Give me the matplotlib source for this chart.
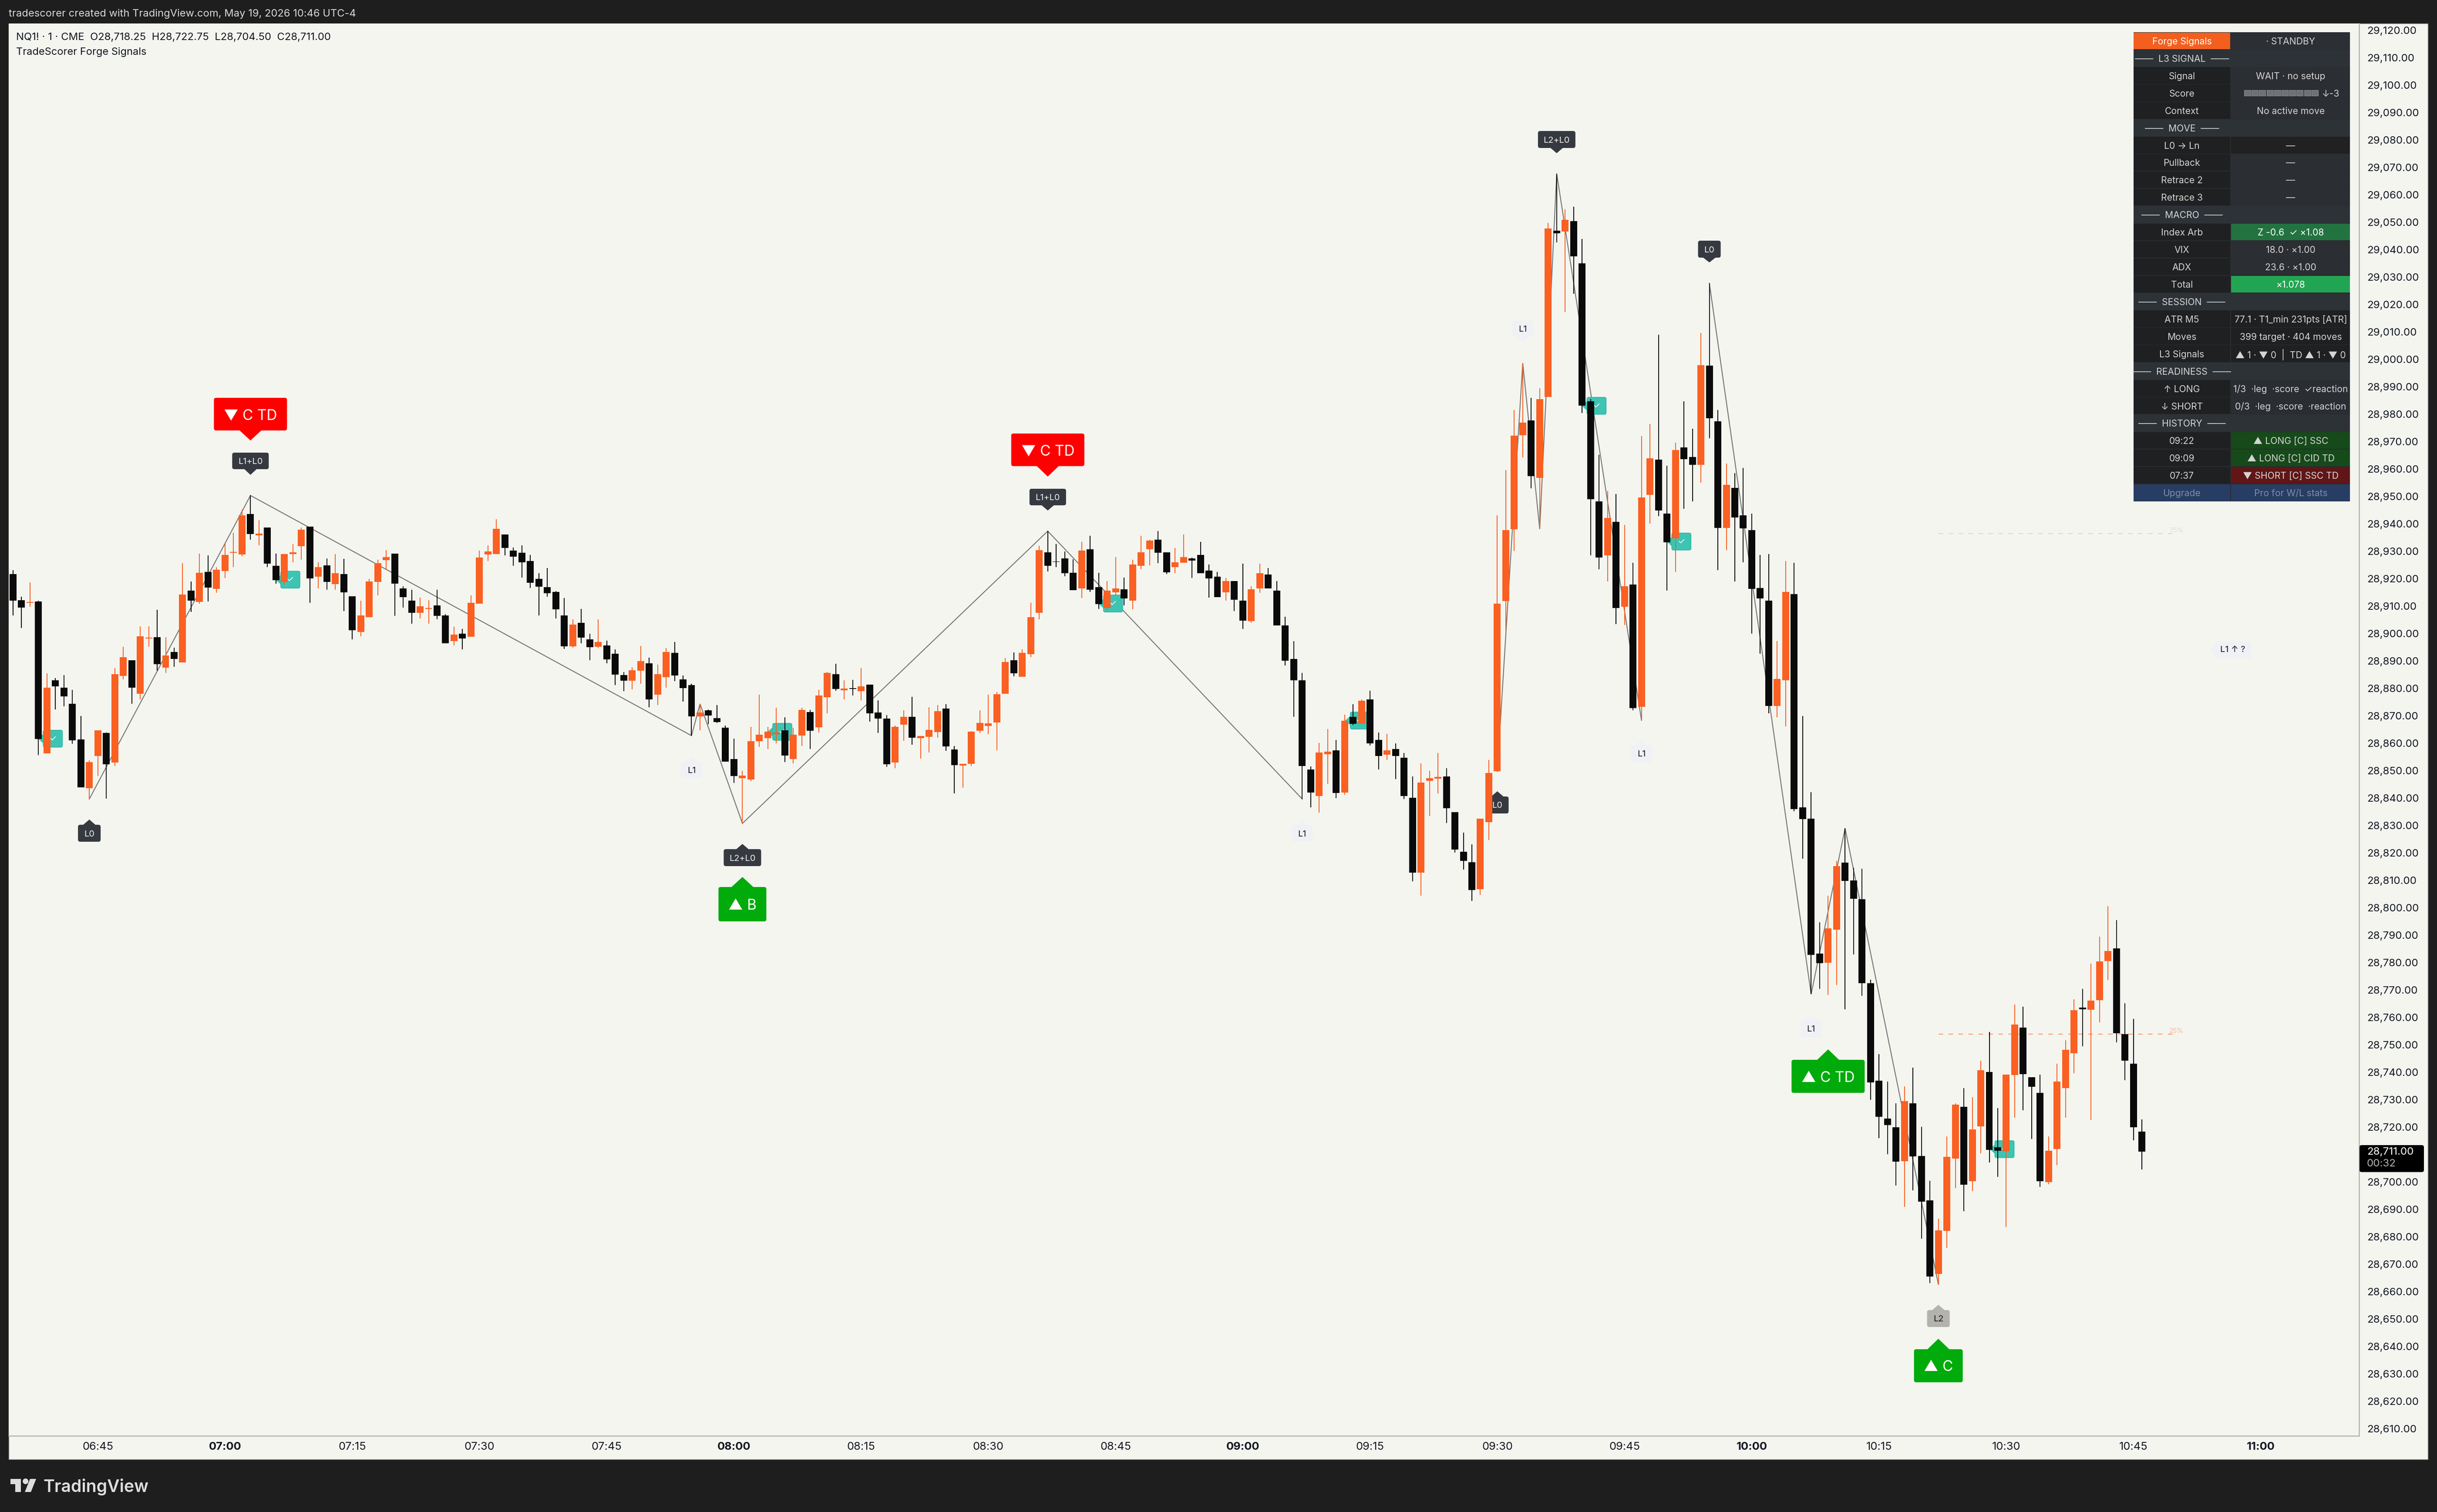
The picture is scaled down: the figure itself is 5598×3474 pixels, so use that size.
import matplotlib
matplotlib.use("Agg")
import matplotlib.pyplot as plt
from matplotlib.patches import FancyBboxPatch, Polygon, Rectangle, Circle
from matplotlib.transforms import Affine2D

plt.rcParams['font.family'] = ['Inter', 'DejaVu Sans']

# NQ1! one minute bars from 06:35 to 10:46
opens = [
    28921.6, 28912.1, 28911.1, 28911.6, 28856.2, 28882.9, 28880.2, 28874.3, 28861.3, 28843.5,
    28855.3, 28863.7, 28852.9, 28884.5, 28890.2, 28878.0, 28898.2, 28898.6, 28887.5, 28893.3,
    28889.4, 28915.6, 28911.4, 28922.4, 28916.2, 28922.8, 28929.4, 28928.7, 28943.6, 28935.7,
    28938.6, 28924.6, 28918.8, 28928.9, 28931.8, 28938.9, 28920.7, 28924.8, 28918.0, 28921.6,
    28913.6, 28900.5, 28905.9, 28918.7, 28926.7, 28929.1, 28916.4, 28911.9, 28907.5, 28908.9,
    28910.2, 28906.5, 28897.2, 28899.9, 28898.7, 28910.9, 28928.7, 28928.9, 28936.0, 28930.2,
    28929.4, 28926.4, 28919.9, 28916.8, 28915.1, 28906.5, 28895.3, 28903.8, 28897.8, 28895.2,
    28895.6, 28892.6, 28884.8, 28882.8, 28886.4, 28889.1, 28877.7, 28884.0, 28892.9, 28883.3,
    28881.1, 28869.7, 28871.9, 28869.1, 28865.6, 28854.2, 28847.2, 28846.7, 28860.7, 28861.8,
    28863.2, 28864.6, 28854.2, 28862.8, 28871.3, 28865.7, 28876.7, 28885.1, 28879.2, 28880.1,
    28878.9, 28881.3, 28871.1, 28868.9, 28852.9, 28866.7, 28869.6, 28861.8, 28862.3, 28864.0,
    28872.6, 28857.7, 28851.8, 28852.4, 28864.5, 28866.2, 28867.5, 28878.0, 28890.2, 28884.1,
    28892.4, 28907.5, 28929.6, 28926.3, 28927.3, 28922.1, 28916.4, 28930.7, 28916.9, 28909.2,
    28915.0, 28916.0, 28911.9, 28924.6, 28930.7, 28934.1, 28929.6, 28924.2, 28925.8, 28927.3,
    28928.6, 28922.9, 28920.7, 28915.0, 28919.1, 28911.9, 28904.5, 28916.4, 28921.4, 28915.6,
    28902.9, 28890.7, 28882.9, 28850.4, 28840.7, 28856.0, 28857.4, 28841.9, 28869.6, 28867.0,
    28876.0, 28861.2, 28855.8, 28857.9, 28854.7, 28840.1, 28812.8, 28846.3, 28847.0, 28847.9,
    28834.8, 28820.4, 28816.5, 28806.7, 28831.1, 28849.7, 28911.8, 28938.0, 28972.3, 28977.7,
    28956.7, 28986.3, 29046.8, 29046.5, 29050.4, 29034.9, 28984.6, 28948.2, 28928.5, 28940.7,
    28909.8, 28917.9, 28873.2, 28950.6, 28963.4, 28943.7, 28934.7, 28967.9, 28964.4, 28961.5,
    28997.7, 28977.4, 28938.4, 28953.0, 28943.1, 28937.7, 28916.5, 28911.9, 28873.5, 28882.9,
    28914.3, 28836.6, 28832.4, 28783.3, 28779.9, 28791.9, 28816.4, 28809.9, 28803.1, 28772.4,
    28736.8, 28723.1, 28719.9, 28707.5, 28728.6, 28709.4, 28693.3, 28666.4, 28682.1, 28708.5,
    28727.4, 28700.2, 28720.2, 28740.0, 28712.6, 28711.2, 28738.9, 28756.3, 28738.1, 28732.5,
    28699.9, 28711.9, 28734.1, 28746.9, 28763.6, 28762.8, 28766.2, 28780.6, 28785.1, 28753.8,
    28743.0, 28718.25,
]
highs = [
    28923.0, 28913.4, 28918.6, 28912.0, 28885.5, 28883.7, 28884.8, 28879.4, 28869.9, 28853.7,
    28864.6, 28863.8, 28887.3, 28895.1, 28890.2, 28902.6, 28902.6, 28908.6, 28898.6, 28894.8,
    28925.6, 28918.9, 28929.1, 28928.4, 28924.2, 28933.0, 28936.7, 28945.1, 28950.3, 28941.3,
    28938.6, 28929.1, 28928.9, 28932.6, 28938.6, 28938.9, 28925.9, 28927.3, 28928.9, 28927.2,
    28913.6, 28911.9, 28919.9, 28926.8, 28930.4, 28929.1, 28917.2, 28916.0, 28913.1, 28912.1,
    28916.0, 28907.1, 28902.4, 28901.6, 28913.8, 28930.2, 28932.1, 28941.6, 28936.0, 28931.3,
    28932.1, 28928.6, 28921.9, 28923.8, 28915.5, 28912.9, 28905.1, 28908.9, 28899.9, 28905.1,
    28897.3, 28894.1, 28885.9, 28887.7, 28895.5, 28891.1, 28888.6, 28894.6, 28896.9, 28884.6,
    28881.6, 28874.3, 28872.2, 28873.8, 28866.4, 28861.6, 28849.9, 28866.0, 28877.7, 28866.0,
    28872.9, 28869.4, 28865.6, 28872.9, 28872.1, 28879.4, 28885.9, 28888.9, 28882.9, 28883.1,
    28887.3, 28881.3, 28875.6, 28870.2, 28866.4, 28871.9, 28876.9, 28862.6, 28873.1, 28873.8,
    28874.2, 28858.9, 28852.4, 28864.3, 28871.9, 28877.7, 28878.6, 28891.0, 28893.1, 28894.1,
    28911.1, 28932.0, 28937.3, 28932.6, 28929.9, 28927.0, 28933.4, 28935.6, 28922.1, 28919.1,
    28927.8, 28920.4, 28926.9, 28935.6, 28934.2, 28937.3, 28929.6, 28931.1, 28936.1, 28927.7,
    28933.4, 28925.1, 28922.4, 28920.2, 28919.1, 28925.5, 28917.2, 28925.5, 28923.9, 28919.1,
    28906.1, 28897.2, 28885.6, 28851.4, 28860.1, 28865.1, 28861.2, 28870.4, 28874.2, 28876.0,
    28879.1, 28863.8, 28863.4, 28859.9, 28856.4, 28847.9, 28852.6, 28849.9, 28856.4, 28850.9,
    28834.8, 28827.4, 28823.1, 28832.4, 28853.8, 28943.1, 28959.5, 28981.4, 28998.6, 28985.9,
    28989.4, 29049.8, 29067.7, 29054.6, 29055.6, 29043.9, 28985.5, 28965.2, 28952.0, 28950.9,
    28939.6, 28925.7, 28972.0, 28976.4, 29009.0, 28961.2, 28969.6, 28984.6, 28974.7, 29009.6,
    29027.7, 28981.4, 28961.9, 28958.5, 28960.4, 28943.7, 28928.6, 28928.9, 28897.2, 28926.4,
    28925.7, 28869.9, 28842.1, 28794.6, 28804.3, 28817.1, 28828.9, 28814.5, 28814.1, 28773.7,
    28746.6, 28736.6, 28728.6, 28734.8, 28741.6, 28720.0, 28700.4, 28686.5, 28716.6, 28728.6,
    28734.2, 28730.8, 28744.2, 28754.7, 28726.9, 28739.1, 28764.7, 28763.8, 28738.2, 28739.1,
    28716.6, 28743.0, 28751.7, 28766.6, 28770.4, 28779.6, 28789.4, 28800.6, 28795.4, 28765.1,
    28759.4, 28722.75,
]
lows = [
    28906.6, 28902.0, 28909.7, 28855.6, 28856.2, 28872.2, 28873.4, 28859.7, 28843.8, 28839.6,
    28848.0, 28839.7, 28851.6, 28883.3, 28874.4, 28876.0, 28895.1, 28886.4, 28885.6, 28887.8,
    28889.4, 28907.8, 28910.8, 28911.6, 28914.8, 28920.2, 28924.1, 28928.2, 28934.1, 28932.1,
    28924.1, 28918.2, 28917.8, 28926.0, 28926.8, 28911.1, 28916.4, 28916.0, 28916.0, 28908.2,
    28897.8, 28898.9, 28905.9, 28913.8, 28923.4, 28906.4, 28909.4, 28903.6, 28905.5, 28903.6,
    28905.1, 28896.4, 28895.6, 28894.1, 28898.7, 28910.9, 28926.4, 28928.9, 28928.4, 28924.6,
    28920.3, 28916.5, 28906.5, 28913.4, 28905.5, 28894.3, 28894.8, 28896.4, 28890.2, 28894.6,
    28889.1, 28881.1, 28878.9, 28879.6, 28881.6, 28873.1, 28873.8, 28880.2, 28882.6, 28875.1,
    28862.7, 28864.6, 28866.9, 28867.4, 28853.3, 28845.5, 28830.7, 28846.1, 28858.6, 28857.8,
    28859.9, 28853.1, 28852.6, 28858.9, 28857.8, 28863.8, 28870.8, 28879.1, 28876.0, 28877.4,
    28875.6, 28867.8, 28863.7, 28851.3, 28850.8, 28860.8, 28859.4, 28854.3, 28856.5, 28861.9,
    28857.2, 28841.6, 28843.7, 28851.6, 28863.7, 28863.3, 28857.4, 28878.0, 28884.3, 28884.1,
    28891.3, 28905.2, 28922.6, 28924.2, 28920.9, 28915.8, 28912.9, 28915.1, 28908.9, 28908.4,
    28913.9, 28910.2, 28908.7, 28923.4, 28924.8, 28925.6, 28921.6, 28921.9, 28925.8, 28920.2,
    28921.9, 28913.1, 28913.3, 28911.9, 28908.2, 28901.6, 28903.8, 28914.8, 28916.4, 28902.9,
    28888.3, 28869.6, 28839.6, 28836.5, 28834.7, 28845.2, 28839.9, 28841.2, 28866.5, 28867.0,
    28859.1, 28850.4, 28853.9, 28846.9, 28839.6, 28809.6, 28804.3, 28833.4, 28841.6, 28830.9,
    28820.1, 28813.8, 28802.5, 28804.7, 28824.7, 28849.7, 28900.9, 28930.1, 28964.2, 28952.9,
    28938.0, 28986.3, 29042.6, 29017.2, 29023.9, 28980.4, 28928.5, 28923.4, 28919.0, 28903.4,
    28903.1, 28872.0, 28868.3, 28940.0, 28942.7, 28915.6, 28922.5, 28945.5, 28948.2, 28955.0,
    28971.2, 28923.0, 28930.3, 28919.0, 28925.9, 28899.9, 28892.6, 28870.8, 28869.4, 28866.1,
    28835.2, 28817.9, 28768.4, 28770.4, 28768.1, 28771.8, 28762.9, 28782.9, 28767.9, 28729.9,
    28716.0, 28710.0, 28698.6, 28690.8, 28696.9, 28679.2, 28663.0, 28662.6, 28675.9, 28697.6,
    28689.2, 28696.6, 28710.4, 28707.0, 28701.8, 28683.6, 28723.4, 28726.1, 28715.6, 28698.1,
    28699.1, 28706.1, 28723.4, 28739.5, 28749.4, 28722.6, 28758.1, 28773.6, 28750.9, 28737.0,
    28715.1, 28704.5,
]
closes = [
    28911.9, 28909.4, 28911.4, 28861.4, 28880.2, 28880.7, 28877.0, 28861.0, 28843.8, 28853.1,
    28864.6, 28852.3, 28885.1, 28891.3, 28880.2, 28898.9, 28898.5, 28888.7, 28891.9, 28890.7,
    28914.1, 28911.9, 28922.1, 28916.7, 28923.3, 28928.6, 28929.7, 28943.1, 28936.2, 28936.4,
    28925.5, 28919.4, 28928.9, 28929.6, 28937.8, 28920.1, 28924.1, 28918.7, 28921.9, 28915.0,
    28901.1, 28906.5, 28918.9, 28925.6, 28927.8, 28918.2, 28913.2, 28907.5, 28909.9, 28909.2,
    28906.4, 28896.4, 28899.6, 28898.2, 28911.1, 28927.7, 28929.9, 28938.2, 28931.1, 28928.0,
    28925.9, 28918.4, 28917.0, 28914.6, 28908.7, 28895.3, 28903.3, 28898.4, 28895.0, 28896.9,
    28890.6, 28885.0, 28882.8, 28886.5, 28889.9, 28875.9, 28885.1, 28893.3, 28884.6, 28880.1,
    28869.7, 28871.1, 28870.1, 28867.7, 28853.3, 28848.0, 28848.2, 28860.7, 28863.1, 28864.2,
    28863.8, 28855.5, 28863.1, 28872.1, 28864.5, 28877.4, 28885.6, 28879.7, 28879.9, 28879.8,
    28880.7, 28870.9, 28868.9, 28852.3, 28865.9, 28869.6, 28861.9, 28862.6, 28864.8, 28871.6,
    28858.7, 28852.0, 28852.4, 28864.2, 28867.4, 28867.2, 28877.8, 28889.5, 28885.5, 28892.9,
    28906.0, 28930.4, 28924.6, 28926.1, 28921.9, 28915.8, 28930.2, 28916.0, 28910.7, 28915.6,
    28916.4, 28912.8, 28925.1, 28929.6, 28933.8, 28929.4, 28922.3, 28926.0, 28927.8, 28926.5,
    28921.9, 28920.1, 28913.3, 28919.1, 28912.3, 28904.6, 28916.1, 28921.9, 28916.4, 28902.9,
    28890.1, 28882.9, 28851.6, 28841.9, 28856.6, 28856.9, 28841.8, 28868.2, 28867.0, 28875.5,
    28859.9, 28855.3, 28857.4, 28855.3, 28840.7, 28812.8, 28845.6, 28847.2, 28847.7, 28836.2,
    28821.1, 28817.0, 28806.4, 28832.4, 28849.1, 28910.9, 28937.7, 28972.1, 28976.8, 28957.3,
    28985.5, 29047.7, 29046.0, 29050.8, 29037.5, 28983.1, 28948.9, 28927.6, 28942.1, 28909.2,
    28917.2, 28872.8, 28949.6, 28963.8, 28944.8, 28933.2, 28966.8, 28963.5, 28961.5, 28997.8,
    28978.4, 28938.4, 28954.2, 28942.2, 28938.3, 28916.3, 28912.8, 28873.5, 28883.4, 28915.2,
    28835.9, 28832.2, 28782.7, 28779.7, 28792.4, 28815.1, 28809.8, 28803.2, 28772.4, 28736.2,
    28723.7, 28720.7, 28707.3, 28729.4, 28709.3, 28692.7, 28665.5, 28682.3, 28709.1, 28728.1,
    28698.9, 28719.1, 28740.7, 28711.7, 28711.3, 28739.1, 28757.3, 28739.3, 28734.7, 28700.2,
    28711.3, 28736.6, 28748.2, 28762.6, 28762.9, 28766.1, 28780.4, 28784.2, 28754.1, 28744.2,
    28719.9, 28711.0,
]

# zigzag pieces: bar number of each swing and which extreme it sits on
swing_bars = [[9, 28, 80, 81, 86, 122, 152], [175, 178, 180, 182, 192], [200, 212, 216, 227]]
swing_ends = [['L', 'H', 'L', 'H', 'L', 'H', 'L'], ['L', 'H', 'L', 'H', 'L'], ['H', 'L', 'H', 'L']]

# teal check flags: bar position and price
check_bars = [4.7, 32.7, 90.7, 129.7, 158.8, 186.7, 196.7, 234.8]
check_prices = [28861.6, 28919.6, 28864.1, 28910.9, 28868.2, 28983.0, 28933.5, 28711.9]

level_prices = [28936.4, 28753.9]
level_labels = ['75%', '25%']
last_price = 28711.00

time_ticks = list(range(10, 266, 15))
time_labels = ['06:45', '07:00', '07:15', '07:30', '07:45', '08:00', '08:15', '08:30', '08:45',
               '09:00', '09:15', '09:30', '09:45', '10:00', '10:15', '10:30', '10:45', '11:00']
price_ticks = list(range(28610, 29121, 10))

panel_left = ['Forge Signals', '——  L3 SIGNAL  ——', 'Signal', 'Score', 'Context', '——  MOVE  ——',
              'L0 → Ln', 'Pullback', 'Retrace 2', 'Retrace 3', '——  MACRO  ——', 'Index Arb', 'VIX', 'ADX',
              'Total', '——  SESSION  ——', 'ATR M5', 'Moves', 'L3 Signals', '——  READINESS  ——',
              '↑ LONG', '↓ SHORT', '——  HISTORY  ——', '09:22', '09:09', '07:37', 'Upgrade']
panel_right = ['· STANDBY', '', 'WAIT · no setup', '↓-3', 'No active move', '',
               '—', '—', '—', '—', '', 'Z -0.6  ✓ ×1.08', '18.0 · ×1.00', '23.6 · ×1.00',
               '×1.078', '', '77.1 · T1_min 231pts [ATR]', '399 target · 404 moves',
               '▲ 1 · ▼ 0  |  TD ▲ 1 · ▼ 0', '', '1/3  ·leg  ·score  ✓reaction',
               '0/3  ·leg  ·score  ·reaction', '', '▲ LONG [C] SSC', '▲ LONG [C] CID TD',
               '▼ SHORT [C] SSC TD', 'Pro for W/L stats']
panel_right_fill = ['#2c3035', '#2d3237', '#2b2e32', '#2b2e32', '#2b2e32', '#2d3237',
                    '#212122', '#2b2e32', '#2b2e32', '#2b2e32', '#2d3237', '#237340', '#2b2e32', '#2b2e32',
                    '#22a553', '#2d3237', '#1f2022', '#1f2022', '#1f2022', '#2d3237',
                    '#2a2d31', '#2a2d31', '#2d3237', '#174a1a', '#174a1a', '#601616', '#273d64']
score_boxes = 10

W, H = 5598, 3474
DPI = 200
DARK = '#1e1e1e'
PAPER = '#f4f5ef'
ORANGE = '#fa6022'
BLACK = '#0a0a0a'
AXIS = '#b2b4ac'

fig = plt.figure(figsize=(W / DPI, H / DPI), dpi=DPI, facecolor=DARK)
px = Affine2D().scale(1, -1).translate(0, H)

fig.patches.append(Rectangle((20, 54), 5557, 3299, transform=px, facecolor=PAPER,
                             edgecolor='#8a8a8a', linewidth=0.5, figure=fig, zorder=-1))

ax = fig.add_axes([20 / W, (H - 3299) / H, (5419 - 20) / W, (3299 - 54) / H], facecolor=PAPER)
ax.set_xlim(-0.503, 276.6)
ax.set_ylim(29120 - (3299 - 69.3) / 6.3, 29120 + (69.3 - 54) / 6.3)
for side in ['top', 'left']:
    ax.spines[side].set_visible(False)
for side in ['right', 'bottom']:
    ax.spines[side].set_color(AXIS)
    ax.spines[side].set_linewidth(0.9)

ax.yaxis.tick_right()
ax.set_yticks(price_ticks)
ax.set_yticklabels([f'{p:,.2f}' for p in price_ticks], fontsize=8.7, color='#131722')
ax.set_xticks(time_ticks)
ax.set_xticklabels(time_labels, fontsize=9.2, color='#131722')
ax.tick_params(axis='both', length=0)
ax.tick_params(axis='y', pad=6.5)
ax.tick_params(axis='x', pad=5.2)
for label in ax.get_xticklabels():
    if label.get_text().endswith(':00'):
        label.set_fontweight('bold')


def bar_px(i):
    return ax.transData.transform((i, 0))[0]


def price_px(p):
    return H - ax.transData.transform((0, p))[1]


def tag(bar, top, bottom, tip, width, text, face, ink, size):
    # rounded label with a small pointer towards its bar
    cx = bar_px(bar)
    ax.add_patch(FancyBboxPatch((cx - width / 2, top), width, bottom - top,
                                boxstyle='round,pad=0,rounding_size=5', transform=px,
                                facecolor=face, linewidth=0, zorder=2))
    base = top if tip < top else bottom
    half = 25 if size > 10 else 14
    ax.add_patch(Polygon([(cx - half, base), (cx + half, base), (cx, tip)], transform=px,
                         facecolor=face, linewidth=0, zorder=2))
    ax.text(cx, (top + bottom) / 2, text, transform=px, ha='center', va='center_baseline',
            fontsize=size, color=ink, zorder=2.1)


# zigzag
for bars, ends in zip(swing_bars, swing_ends):
    prices = [highs[b] if e == 'H' else lows[b] for b, e in zip(bars, ends)]
    ax.plot(bars, prices, color='#787878', lw=0.8, zorder=1, solid_joinstyle='miter')

# teal flags
for b, p in zip(check_bars, check_prices):
    cx, cy = bar_px(b), price_px(p)
    ax.add_patch(Polygon([(cx - 34, cy), (cx - 22, cy - 11), (cx - 22, cy + 11)], transform=px,
                         facecolor='#3ec4b3', linewidth=0, zorder=1.5))
    ax.add_patch(FancyBboxPatch((cx - 22, cy - 19.5), 44, 39, boxstyle='round,pad=0,rounding_size=4',
                                transform=px, facecolor='#3ec4b3', edgecolor='#30b8a6', linewidth=0.6,
                                zorder=1.5))
    ax.text(cx, cy, '✓', transform=px, ha='center', va='center', fontsize=7, color='white', zorder=1.6)

# dashed retrace levels
for p, txt, col, txt_col in zip(level_prices, level_labels, ['#d9d9d4', '#f79a72'], ['#dededa', '#fbb597']):
    y = price_px(p)
    ax.plot([bar_px(227), 4991], [y, y], transform=px, color=col, lw=0.75, dashes=(5, 6), zorder=1)
    ax.text(4983, y - 7, txt, transform=px, ha='left', va='center', fontsize=5.4, color=txt_col, zorder=1)

small = 7.2
DARK_TAG, LIGHT_TAG, GRAY_TAG = '#363a40', '#f0f1f5', '#b3b3ab'
tag(28, 1040, 1078, 1091, 84, 'L1+L0', DARK_TAG, '#eeeeee', small)
tag(9, 1895, 1934, 1883, 52, 'L0', DARK_TAG, '#eeeeee', small)
tag(80, 1750, 1789, 1739, 48, 'L1', LIGHT_TAG, '#131722', small)
tag(86, 1951, 1990, 1939, 86, 'L2+L0', DARK_TAG, '#eeeeee', small)
tag(122, 1123, 1161, 1173, 84, 'L1+L0', DARK_TAG, '#eeeeee', small)
tag(152, 1897, 1934, 1884, 48, 'L1', LIGHT_TAG, '#131722', small)
tag(175, 1830, 1869, 1818, 52, 'L0', DARK_TAG, '#eeeeee', small)
tag(178, 737, 774, 785, 48, 'L1', LIGHT_TAG, '#131722', small)
tag(182, 301, 340, 352, 86, 'L2+L0', DARK_TAG, '#eeeeee', small)
tag(200, 553, 592, 603, 52, 'L0', DARK_TAG, '#eeeeee', small)
tag(192, 1712, 1751, 1700, 48, 'L1', LIGHT_TAG, '#131722', small)
tag(212, 2344, 2383, 2332, 48, 'L1', LIGHT_TAG, '#131722', small)
tag(227, 3010, 3049, 2998, 52, 'L2', GRAY_TAG, '#131722', small)

RED, GREEN = '#ff0000', '#00ab0b'
tag(28, 914, 989, 1012, 168, '▼ C TD', RED, 'white', 12)
tag(122, 996, 1071, 1095, 168, '▼ C TD', RED, 'white', 12)
tag(86, 2038, 2117, 2015, 110, '▲ B', GREEN, 'white', 12)
tag(214, 2435, 2511, 2411, 168, '▲ C TD', GREEN, 'white', 12)
tag(227, 3100, 3176, 3076, 112, '▲ C', GREEN, 'white', 12)

# L1 note at the right, pointer on its left side
ax.add_patch(FancyBboxPatch((5087, 1474), 85, 39, boxstyle='round,pad=0,rounding_size=5', transform=px,
                            facecolor=LIGHT_TAG, linewidth=0, zorder=2))
ax.add_patch(Polygon([(5075, 1493), (5087, 1481), (5087, 1505)], transform=px, facecolor=LIGHT_TAG,
                     linewidth=0, zorder=2))
ax.text(5129, 1493, 'L1 ↑ ?', transform=px, ha='center', va='center', fontsize=small, color='#131722', zorder=2.1)

# candles
xs = list(range(len(opens)))
colors = [ORANGE if c >= o else BLACK for o, c in zip(opens, closes)]
ax.vlines(xs, lows, highs, colors=colors, lw=0.72, zorder=3)
ax.bar(xs, [abs(c - o) for o, c in zip(opens, closes)], bottom=[min(o, c) for o, c in zip(opens, closes)],
       width=0.82, color=colors, linewidth=0, zorder=3)

# overlay in picture pixels
over = fig.add_axes([0, 0, 1, 1])
over.set_xlim(0, W)
over.set_ylim(H, 0)
over.set_axis_off()

over.text(20, 32, 'tradescorer created with TradingView.com, May 19, 2026 10:46 UTC-4', fontsize=8.55,
          color='#d8d8d8', va='center', ha='left')
over.text(37, 86, 'NQ1! · 1 · CME  O28,718.25  H28,722.75  L28,704.50  C28,711.00', fontsize=8.6,
          color='#131722', va='center', ha='left')
over.text(37, 120, 'TradeScorer Forge Signals', fontsize=8.5, color='#131722', va='center', ha='left')

# price tag
over.add_patch(FancyBboxPatch((5420, 2631), 148, 62, boxstyle='round,pad=0,rounding_size=5',
                              facecolor='black', linewidth=0))
over.text(5437, 2647, f'{last_price:,.2f}', fontsize=8.7, color='white', va='center', ha='left')
over.text(5437, 2674, '00:32', fontsize=8.7, color='#b2b2b2', va='center', ha='left')

# logo
LOGO = '#dedede'
over.add_patch(Polygon([(24, 3398), (48, 3398), (48, 3428), (35, 3428), (35, 3410), (24, 3410)],
                       facecolor=LOGO, linewidth=0))
over.add_patch(Circle((58.7, 3403.5), 6.5, facecolor=LOGO, linewidth=0))
over.add_patch(Polygon([(69, 3398), (83, 3398), (71, 3428), (57, 3428)], facecolor=LOGO, linewidth=0))
over.text(99, 3428, 'TradingView', fontsize=14.1, fontweight='semibold', color=LOGO, va='baseline', ha='left')

# status table
row_h = 39.93
panel_size = 7.6
over.add_patch(Rectangle((4901, 74), 497, row_h * 27, facecolor='#292c30', linewidth=0))
for i, (left, right, fill) in enumerate(zip(panel_left, panel_right, panel_right_fill)):
    top = 74 + i * row_h
    cy = top + row_h / 2
    if right == '':
        over.add_patch(Rectangle((4901, top), 497, row_h, facecolor=fill, linewidth=0))
    else:
        left_fill = '#f25f1f' if i == 0 else '#273d64' if i == 26 else '#1f2022'
        over.add_patch(Rectangle((4901, top + 0.5), 222, row_h - 1.5, facecolor=left_fill, linewidth=0))
        over.add_patch(Rectangle((5125, top + 0.5), 273, row_h - 1.5, facecolor=fill, linewidth=0))
    ink = 'white' if i == 0 else '#7f8ca3' if i == 26 else '#d4d4d4'
    over.text(5012, cy, left, fontsize=panel_size, color=ink, ha='center', va='center_baseline')
    if left == 'Score':
        for k in range(score_boxes):
            over.add_patch(Rectangle((5155 + k * 17.2, cy - 6.5), 15, 13, facecolor='#6f7275',
                                     edgecolor='#8c8e90', linewidth=0.4))
        over.text(5334, cy, right, fontsize=panel_size, color=ink, ha='left', va='center_baseline')
    elif right:
        ink = '#7f8ca3' if i == 26 else 'white' if fill in ('#237340', '#22a553') else '#d4d4d4'
        over.text(5262, cy, right, fontsize=panel_size, color=ink, ha='center', va='center_baseline')

fig.savefig('out.png', dpi=DPI, facecolor=DARK)
